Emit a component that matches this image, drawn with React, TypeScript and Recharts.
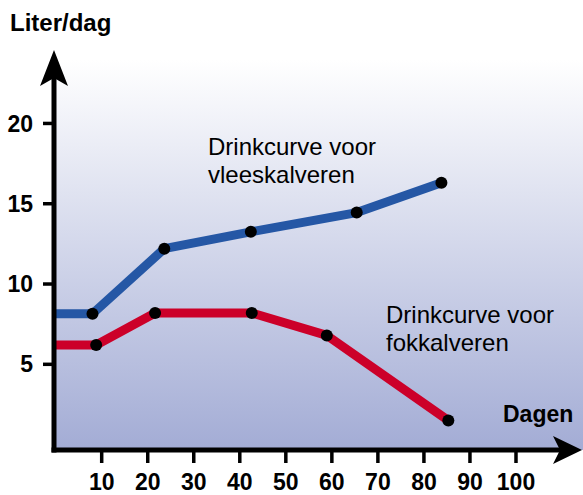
import { LineChart, Line, XAxis, YAxis } from 'recharts'

const FONT = '"Liberation Sans", Arial, Helvetica, sans-serif'

// days and litres per day
const vleesDagen = [0, 8, 23.6, 42.4, 65.4, 83.8]
const vleesLiter = [8.15, 8.15, 12.2, 13.25, 14.45, 16.3]
const fokDagen = [0, 8.8, 21.6, 42.6, 58.9, 85.3]
const fokLiter = [6.2, 6.2, 8.2, 8.2, 6.8, 1.5]

const xTicks = [10, 20, 30, 40, 50, 60, 70, 80, 90, 100]
const yTicks = [5, 10, 15, 20]

const BLUE = '#2557a5'
const RED = '#cc0029'

const vleesData = vleesDagen.map((dag, i) => ({ dag, liter: vleesLiter[i] }))
const fokData = fokDagen.map((dag, i) => ({ dag, liter: fokLiter[i] }))

// first point sits on the axis and gets no dot
const renderDot = (p: any) =>
  p.index === 0
    ? <g key={`d-${p.index}`} />
    : <circle key={`d-${p.index}`} cx={p.cx} cy={p.cy} r={6} fill="#000" />

const tickStyle = { fill: '#000', fontSize: 23, fontWeight: 'bold', fontFamily: FONT }

export default function App() {
  return (
    <div style={{ position: 'absolute', left: 0, top: 0, width: 583, height: 495, background: '#fff', overflow: 'hidden' }}>
      <div style={{
        position: 'absolute', left: 56, top: 0, width: 527, height: 450,
        background: 'linear-gradient(to bottom, #ffffff 60px, #a3acd5 450px)',
      }} />
      <div style={{ position: 'absolute', left: 0, top: 0 }}>
        <LineChart width={583} height={495} margin={{ top: 78, right: 23, bottom: 0, left: 0 }}>
          <defs>
            <marker id="arrowX" markerUnits="userSpaceOnUse" markerWidth={30} markerHeight={28}
              refX={7} refY={14} orient="auto" viewBox="0 0 30 28">
              <path d="M0,0 L29,14 L0,28 L7,14 Z" fill="#000" />
            </marker>
            <marker id="arrowY" markerUnits="userSpaceOnUse" markerWidth={37} markerHeight={28}
              refX={8} refY={14} orient="auto-start-reverse" viewBox="0 0 37 28">
              <path d="M0,0 L36,14 L0,28 L8,14 Z" fill="#000" />
            </marker>
          </defs>
          <XAxis
            dataKey="dag" type="number" domain={[-0.36, 109.56]} allowDataOverflow
            ticks={xTicks} interval={0} height={45}
            axisLine={{ stroke: '#000', strokeWidth: 5, strokeLinecap: 'square', markerEnd: 'url(#arrowX)' }}
            tickLine={{ stroke: '#000', strokeWidth: 3.5 }} tickSize={13} tickMargin={11}
            tick={tickStyle}
          />
          <YAxis
            type="number" domain={[-0.336, 22.83]} allowDataOverflow
            ticks={yTicks} interval={0} width={54}
            axisLine={{ stroke: '#000', strokeWidth: 5, strokeLinecap: 'square', markerStart: 'url(#arrowY)' }}
            tickLine={{ stroke: '#000', strokeWidth: 3.5 }} tickSize={11} tickMargin={10}
            tick={tickStyle}
          />
          <Line data={vleesData} dataKey="liter" type="linear" stroke={BLUE} strokeWidth={9}
            strokeLinejoin="round" dot={renderDot} activeDot={false} isAnimationActive={false} />
          <Line data={fokData} dataKey="liter" type="linear" stroke={RED} strokeWidth={9}
            strokeLinejoin="round" dot={renderDot} activeDot={false} isAnimationActive={false} />
        </LineChart>
      </div>
      <svg width={583} height={495} style={{ position: 'absolute', left: 0, top: 0, pointerEvents: 'none' }}
        fontFamily={FONT}>
        <text x={10} y={31} fontSize={24} fontWeight="bold" fill="#000">Liter/dag</text>
        <text x={503} y={422} fontSize={23} fontWeight="bold" fill="#000">Dagen</text>
        <text x={208} y={155} fontSize={24} fill="#000">Drinkcurve voor</text>
        <text x={208} y={183} fontSize={24} fill="#000">vleeskalveren</text>
        <text x={386} y={323} fontSize={24} fill="#000">Drinkcurve voor</text>
        <text x={386} y={351} fontSize={24} fill="#000">fokkalveren</text>
      </svg>
    </div>
  )
}
